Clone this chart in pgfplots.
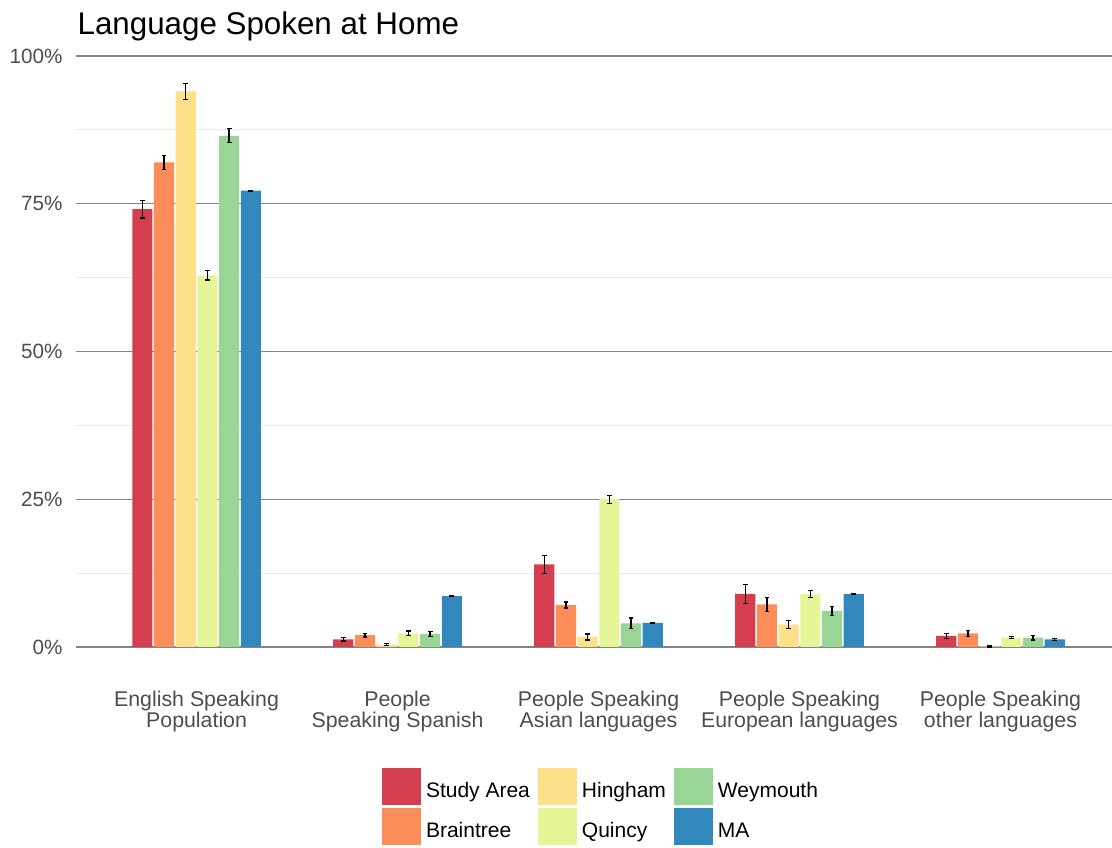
\documentclass[border=0pt]{standalone}
\usepackage{fontspec}
\setmainfont{Liberation Sans}
\usepackage{pgfplots}
\pgfplotsset{compat=1.18}

\definecolor{cSA}{HTML}{D53E4F}
\definecolor{cBR}{HTML}{FC8D59}
\definecolor{cHI}{HTML}{FEE08B}
\definecolor{cQU}{HTML}{E6F598}
\definecolor{cWE}{HTML}{99D594}
\definecolor{cMA}{HTML}{3288BD}
\definecolor{tickgray}{HTML}{4D4D4D}

\pgfplotsset{
  eb/.style={
    error bars/.cd,
    y dir=both, y explicit,
    error bar style={line width=1pt, black},
    error mark options={rotate=90, mark size=1.8pt, line width=0.9pt, black}
  }
}

\begin{document}
\begin{tikzpicture}
\useasboundingbox (0,0) rectangle (834pt,636pt);
\begin{axis}[
    at={(57pt,150.75pt)}, anchor=south west,
    scale only axis,
    width=777pt, height=443.25pt,
    xmin=-0.6, xmax=4.555,
    ymin=0, ymax=100,
    clip=false,
    axis line style={draw=none},
    major tick length=0pt, minor tick length=0pt,
    tick style={draw=none},
    ybar, bar width=0.1,
    xtick={0,1,2,3,4},
    xticklabels={{English Speaking\\Population},{People\\Speaking Spanish},{People Speaking\\Asian languages},{People Speaking\\European languages},{People Speaking\\other languages}},
    xticklabel style={align=center, anchor=north, inner sep=0pt, text=tickgray,
        font=\fontsize{16}{15.5}\selectfont},
    xticklabel shift=32.8pt,
    ytick={0,25,50,75,100},
    yticklabels={0\%,25\%,50\%,75\%,100\%},
    minor ytick={12.5,37.5,62.5,87.5},
    yticklabel style={inner sep=0pt, text=tickgray, font=\fontsize{15.5}{18}\selectfont},
    yticklabel shift=10pt,
    ymajorgrids, yminorgrids,
    major grid style={line width=1pt, color=black!48},
    minor grid style={line width=0.75pt, color=black!8},
    legend columns=3,
    legend image code/.code={%
        \begin{scope}[#1]
        \fill (0pt,-5.6pt) rectangle (29.25pt,22.1pt);
        \end{scope}},
    legend style={at={(0.2954,-0.2047)}, anchor=north west, draw=none,
        inner sep=0pt, outer sep=0pt, row sep=2.25pt,
        font=\fontsize{15.75}{18}\selectfont,
        nodes={inner sep=0pt, anchor=base west},
        /tikz/every odd column/.append style={column sep=3.75pt},
        /tikz/every even column/.append style={column sep=6pt}},
]

% legend is filled row by row: Study Area, Hingham, Weymouth / Braintree, Quincy, MA
\addplot[fill=cSA, draw=none, bar shift=-0.27, eb] coordinates {
    (0,74.1) +- (0,1.5)
    (1,1.3)  +- (0,0.3)
    (2,14.0) +- (0,1.5)
    (3,9.0)  +- (0,1.6)
    (4,1.9)  +- (0,0.4)
};
\addlegendentry{Study Area}

\addplot[fill=cHI, draw=none, bar shift=-0.054, eb] coordinates {
    (0,94.0) +- (0,1.4)
    (1,0.4)  +- (0,0.2)
    (2,1.7)  +- (0,0.5)
    (3,3.8)  +- (0,0.7)
    (4,0.1)  +- (0,0.1)
};
\addlegendentry{Hingham}

\addplot[fill=cWE, draw=none, bar shift=0.162, eb] coordinates {
    (0,86.5) +- (0,1.2)
    (1,2.2)  +- (0,0.4)
    (2,4.0)  +- (0,0.9)
    (3,6.1)  +- (0,0.8)
    (4,1.6)  +- (0,0.4)
};
\addlegendentry{Weymouth}

\addplot[fill=cBR, draw=none, bar shift=-0.162, eb] coordinates {
    (0,82.0) +- (0,1.2)
    (1,2.0)  +- (0,0.3)
    (2,7.1)  +- (0,0.5)
    (3,7.2)  +- (0,1.2)
    (4,2.3)  +- (0,0.5)
};
\addlegendentry{Braintree}

\addplot[fill=cQU, draw=none, bar shift=0.054, eb] coordinates {
    (0,62.9) +- (0,0.8)
    (1,2.3)  +- (0,0.4)
    (2,25.0) +- (0,0.7)
    (3,9.0)  +- (0,0.6)
    (4,1.6)  +- (0,0.2)
};
\addlegendentry{Quincy}

\addplot[fill=cMA, draw=none, bar shift=0.27, eb] coordinates {
    (0,77.2) +- (0,0.1)
    (1,8.6)  +- (0,0.1)
    (2,4.1)  +- (0,0.1)
    (3,9.0)  +- (0,0.1)
    (4,1.3)  +- (0,0.2)
};
\addlegendentry{MA}

\end{axis}
\node[anchor=base west, inner sep=0pt, font=\fontsize{23.5}{28}\selectfont]
    at (58pt,609.75pt) {Language Spoken at Home};
\end{tikzpicture}
\end{document}
